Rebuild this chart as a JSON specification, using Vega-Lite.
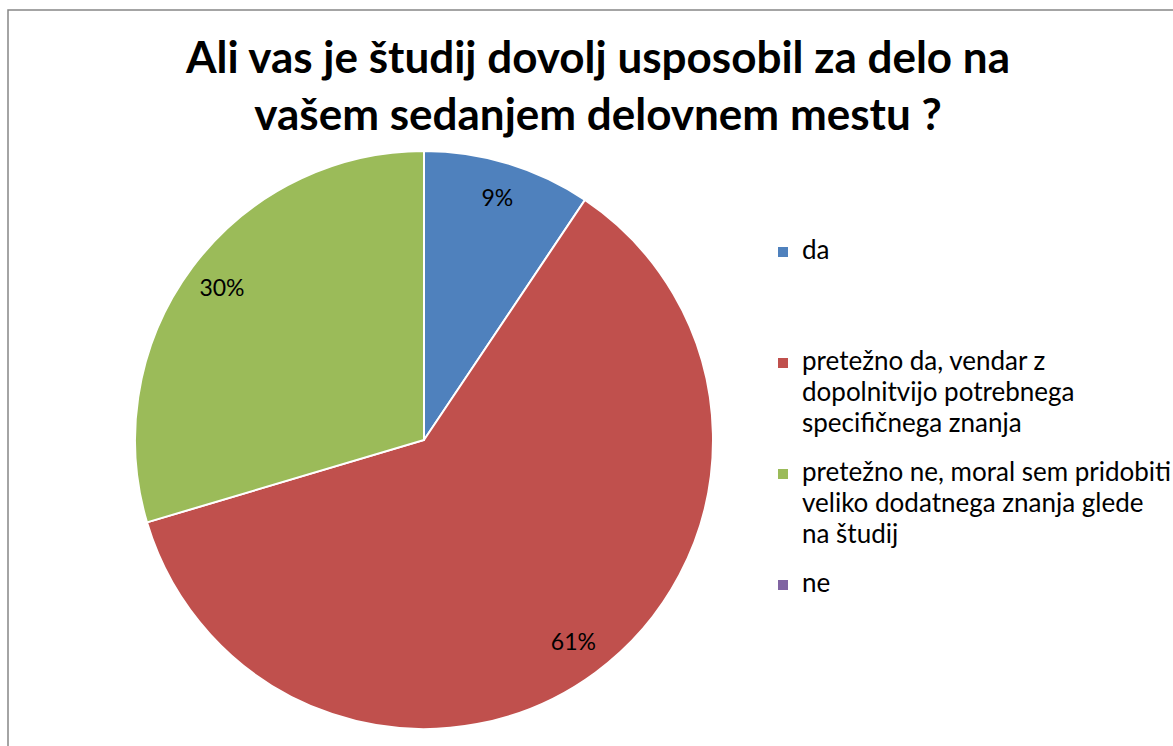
{
  "$schema": "https://vega.github.io/schema/vega-lite/v6.json",
  "autosize": {"type": "none"},
  "padding": {"left": 8, "top": 10, "right": 0, "bottom": 0},
  "width": 1180,
  "height": 745,
  "background": "white",
  "view": {"stroke": "#868686", "strokeWidth": 1.5, "fill": "white"},
  "config": {
    "font": "Lato",
    "style": {"guide-label": {"lineHeight": 31}}
  },
  "title": {
    "text": ["Ali vas je študij dovolj usposobil za delo na", "vašem sedanjem delovnem mestu ?"],
    "anchor": "middle",
    "frame": "group",
    "font": "Lato",
    "fontSize": 44,
    "fontWeight": "bold",
    "color": "black",
    "lineHeight": 57,
    "baseline": "alphabetic",
    "offset": -164
  },
  "data": {
    "values": [
      {"odgovor": "da", "delez": 9.4, "oznaka": "9%", "vrstni_red": 1},
      {"odgovor": "pretežno da, vendar z dopolnitvijo potrebnega specifičnega znanja", "delez": 61.0, "oznaka": "61%", "vrstni_red": 2},
      {"odgovor": "pretežno ne, moral sem pridobiti veliko dodatnega znanja glede na študij", "delez": 29.6, "oznaka": "30%", "vrstni_red": 3},
      {"odgovor": "ne", "delez": 0, "oznaka": "", "vrstni_red": 4}
    ]
  },
  "encoding": {
    "theta": {"field": "delez", "type": "quantitative", "stack": true},
    "order": {"field": "vrstni_red", "type": "quantitative"},
    "color": {
      "field": "odgovor",
      "type": "nominal",
      "sort": null,
      "scale": {
        "domain": ["da", "pretežno da, vendar z dopolnitvijo potrebnega specifičnega znanja", "pretežno ne, moral sem pridobiti veliko dodatnega znanja glede na študij", "ne"],
        "range": ["#4F81BD", "#C0504D", "#9BBB59", "#8064A2"]
      },
      "legend": {
        "title": null,
        "orient": "none",
        "legendX": 762,
        "legendY": 215,
        "padding": 0,
        "symbolType": "M-1,1.8H1V3.8H-1Z",
        "symbolSize": 100,
        "symbolStrokeWidth": 0,
        "labelFont": "Lato",
        "labelFontSize": 26,
        "labelColor": "black",
        "labelLimit": 500,
        "labelOffset": 6,
        "labelBaseline": "top",
        "gridAlign": "all",
        "rowPadding": 10,
        "labelExpr": "datum.label == 'da' ? 'da' : datum.label == 'ne' ? 'ne' : indexof(datum.label, 'pretežno da') == 0 ? ['pretežno da, vendar z', 'dopolnitvijo potrebnega', 'specifičnega znanja'] : ['pretežno ne, moral sem pridobiti', 'veliko dodatnega znanja glede', 'na študij']"
      }
    }
  },
  "layer": [
    {
      "mark": {"type": "arc", "outerRadius": 289, "x": 416, "y": 430, "stroke": "white", "strokeWidth": 2}
    },
    {
      "mark": {"type": "text", "radius": 252, "x": 416, "y": 430, "font": "Lato", "fontSize": 23, "color": "black"},
      "encoding": {
        "text": {"field": "oznaka", "type": "nominal"},
        "color": {"value": "black"}
      }
    }
  ]
}
